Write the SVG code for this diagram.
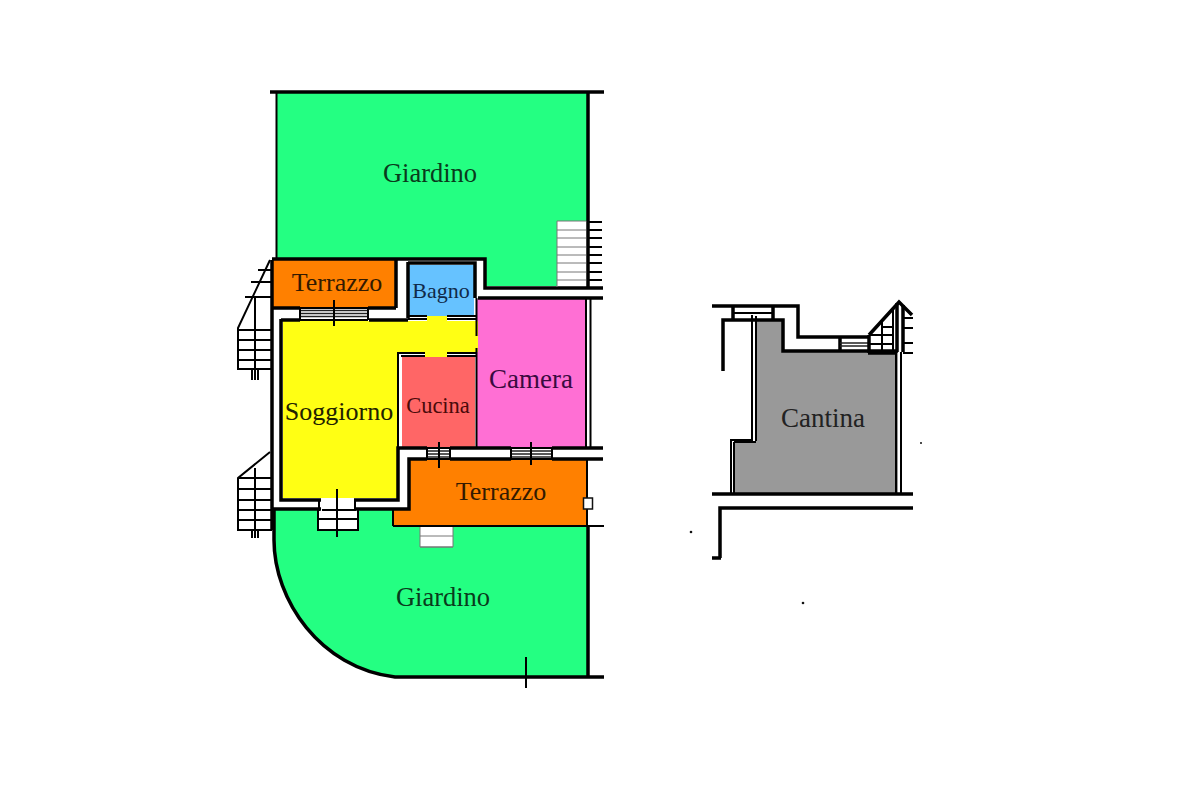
<svg xmlns="http://www.w3.org/2000/svg" width="1200" height="800" viewBox="0 0 1200 800">
<style>
text{font-family:"Liberation Serif","Times New Roman",serif;text-anchor:middle}
.w3{fill:none;stroke:#000;stroke-width:3.5}
.w2{fill:none;stroke:#000;stroke-width:2}
.w1{fill:none;stroke:#222;stroke-width:1.4}
.l{fill:none;stroke:#777;stroke-width:1}
</style>
<rect width="1200" height="800" fill="#fff"/>
<g id="rooms">
<path fill="#24ff82" d="M277 93H587V221H557V286H486V258H277Z"/>
<path fill="#24ff82" d="M275 510H318V530H358V510H393V526H420V547H453V526H587V677H395C320 668 276 600 274 540Z"/>
<rect fill="#ff8000" x="272" y="260" width="124" height="48"/>
<path fill="#ff8000" d="M409 460H587V526H393V510H409Z"/>
<rect fill="#66c2ff" x="408" y="265" width="66" height="51"/>
<rect fill="#ff6fd4" x="477" y="299" width="109" height="149"/>
<rect fill="#ff6666" x="402" y="357" width="73" height="91"/>
<path fill="#ffff14" d="M283 321H427V316H447V321H478V352H447V357H425V352H398V498H283Z"/>
<path fill="#999" d="M756 321H782V352H898V493H733V442H756Z"/>
</g>
<g id="garden-outline">
<path class="w3" d="M270 92H604"/>
<path class="w2" d="M276.500 92V259"/>
<path class="w3" d="M588 92V288M588 526V677M604 677H395C320 668 274 600 274 540V510"/>
<path class="w2" d="M393 526H604M393 526V510M587 460V526"/>
<path class="w2" d="M586 298V447M590.500 298V447" stroke-width="1.500"/>
<rect x="583.500" y="498" width="9" height="11" fill="#fff" stroke="#111" stroke-width="1.500"/>
<path class="w2" d="M526 657V688"/>
</g>
<g id="house-walls">
<path class="w3" d="M272 259H485V288H603M478 298H603M396 259V308M272 308H300M368 308H396"/>
<path class="w3" d="M408 262V318M408 263H475V298"/>
<path class="w2" d="M408 319H427M447 319H476M408 316H427M447 316H476"/>
<path class="w3" d="M272 260V530M281 319V500H321M354 500H398V448H427M450 448H511M552 448H603M369 320H408M281 320H300"/>
<path class="w3" d="M272 509H321M354 509H409V459H427M450 459H511M552 459H603"/>
<path class="w2" d="M398 448V353H425M447 353H476M401 356H425M447 356H476M476.500 298V336M476.500 348V448"/>
<path class="w2" d="M319 499V511M355 499V511"/>
<path class="w1" d="M300 310.500H368M300 313.500H368M300 316.500H368M428 451H450M428 454H450M428 457H450M511 451H552M511 454H552M511 457H552"/>
<path class="w2" d="M427 447V460M450 447V460M511 447V460M552 447V460M300 308V320M368 308V320M300 308H368M300 320H368M427 448H450M427 459H450M511 448H552M511 459H552"/>
<path class="w2" d="M334 300V326M439 442V468M531 442V465M337 489V537"/>
</g>
<g id="stairs">
<path class="l" d="M557 221V287M557 221H586M557 230H586M557 238H586M557 247H586M557 255H586M557 263H586M557 272H586M557 280H586"/>
<path class="w2" d="M588 222H602M588 230H602M588 238H602M588 247H602M588 255H602M588 263H602M588 272H602M588 280H602"/>
<path class="w2" d="M270 260L238 328V369H272M238 330H272M238 340H272M238 350H272M238 360H272M255 297V369M258 270H272M251 282H272M245 297H272M252 369V380M255 369V380M258 369V380"/>
<path class="w2" d="M270 452L238 478V530H272M238 478H272M238 489H272M238 500H272M238 510H272M238 520H272M255 468V530M252 530V538M255 530V538M258 530V538"/>
<path class="w2" d="M318 510V530H358V510M318 519H358M322 510H354"/>
<path class="l" d="M420 527V547H453V527M420 536H453M420 547H453" stroke="#555"/>
</g>
<g id="cellar-walls">
<path class="w3" d="M712 306H798V337H838M733 306V320M773 306V320M723 371V320H783V351H898M712 494H913M720 558V508H913M712 558H721"/>
<path class="w2" d="M733 313H773"/>
<path class="w2" d="M752 315V440H731V493M756 316V441M734 442H756M734 442V493"/>
<path class="w2" d="M896 352V494M901 352V494"/>
<path class="w3" d="M840 337V351M838 337H868"/>
<path class="w1" d="M840 343H868M840 346H868"/>
<path class="w3" d="M869 335L899 302L912 315M869 335V353M868 353H895"/>
<path class="w2" d="M882 321V353M893 308V353M869 344H893M869 335H893M882 327H893"/>
<path class="w3" d="M897 303V352M903 305V352"/>
<path class="w2" d="M903 318H913M903 328H913M903 343H913M903 353H913"/>
</g>
<g id="specks" fill="#111">
<circle cx="921" cy="443" r="1"/>
<circle cx="691" cy="532" r="1.300"/>
<circle cx="803" cy="603" r="1.300"/>
</g>
<g id="labels">
<text x="430" y="182" font-size="26.500" fill="#0a3a1c">Giardino</text>
<text x="337" y="291" font-size="26" fill="#331a00">Terrazzo</text>
<text x="441" y="298" font-size="22" fill="#102a4a">Bagno</text>
<text x="531" y="388" font-size="27" fill="#3a0a40">Camera</text>
<text x="339" y="420" font-size="26" fill="#222200">Soggiorno</text>
<text x="438" y="413" font-size="22.500" fill="#4a0a0a">Cucina</text>
<text x="501" y="500" font-size="26" fill="#331a00">Terrazzo</text>
<text x="443" y="606" font-size="26.500" fill="#0a3a1c">Giardino</text>
<text x="823" y="427" font-size="27" fill="#222">Cantina</text>
</g>
</svg>
